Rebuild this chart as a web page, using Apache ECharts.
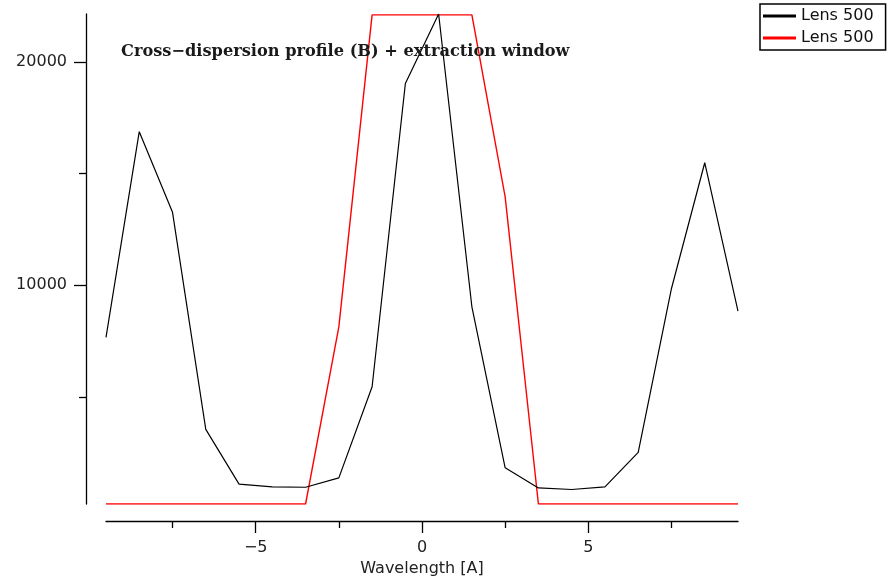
<!DOCTYPE html>
<html>
<head>
<meta charset="utf-8">
<script src="https://cdn.jsdelivr.net/npm/echarts@6/dist/echarts.min.js"></script>
<style>
  html, body { margin: 0; padding: 0; background: #fff; }
  #chart { width: 889px; height: 580px; }
</style>
</head>
<body>
<div id="chart"></div>
<script>
// pixel offsets along the cross-dispersion direction
const wavelength = [-9.5, -8.5, -7.5, -6.5, -5.5, -4.5, -3.5, -2.5, -1.5, -0.5,
                    0.5, 1.5, 2.5, 3.5, 4.5, 5.5, 6.5, 7.5, 8.5, 9.5];
// measured profile (black)
const profile = [7660, 16870, 13260, 3540, 1090, 970, 950, 1370, 5450, 19030,
                 22140, 9030, 1820, 920, 850, 970, 2510, 9850, 15480, 8840];
// extraction window, scaled to the profile (red)
const extraction = [200, 200, 200, 200, 200, 200, 200, 8130, 22100, 22100,
                    22100, 22100, 13950, 200, 200, 200, 200, 200, 200, 200];

const xMajorTicks = [-5, 0, 5];
const xMinorTicks = [-7.5, -2.5, 2.5, 7.5];
const yMajorTicks = [10000, 20000];
const yMinorTicks = [5000, 15000];

const legendLabel = 'Lens 500';

const chart = echarts.init(document.getElementById('chart'));

const sansFont = '"DejaVu Sans", sans-serif';
const xMin = -9.5, xMax = 9.5, yMin = 200, yMax = 22140;

const minus = v => (v < 0 ? '\u2212' + Math.abs(v) : String(v));

const option = {
  backgroundColor: '#fff',
  animation: false,
  title: {
    text: 'Cross\u2212dispersion profile (B) + extraction window',
    left: 121,
    top: 44,
    padding: 0,
    textStyle: {
      fontFamily: '"DejaVu Serif", serif',
      fontWeight: 'bold',
      fontSize: 16.2,
      color: '#1a1a1a'
    }
  },
  legend: {
    orient: 'vertical',
    left: 760,
    top: 4,
    padding: [4, 12, 4, 3],
    itemGap: 6,
    itemWidth: 33,
    itemHeight: 3,
    icon: 'rect',
    borderColor: '#000',
    borderWidth: 1.5,
    borderRadius: 0,
    data: ['profile', 'window'],
    formatter: () => legendLabel,
    textStyle: { fontFamily: sansFont, fontSize: 16, color: '#111' }
  },
  grid: { left: 106, right: 151, top: 14, bottom: 76, containLabel: false, outerBoundsMode: 'none' },
  xAxis: [
    {
      type: 'value',
      min: xMin,
      max: xMax,
      position: 'bottom',
      offset: 17,
      name: 'Wavelength [A]',
      nameLocation: 'middle',
      nameGap: 40,
      nameTextStyle: { fontFamily: sansFont, fontSize: 16, color: '#222' },
      axisLine: { show: true, onZero: false, lineStyle: { color: '#000', width: 1.3 } },
      axisTick: { show: true, customValues: xMajorTicks, length: 12, lineStyle: { color: '#000', width: 1.3 } },
      axisLabel: { customValues: xMajorTicks, margin: 19, fontFamily: sansFont, fontSize: 16, color: '#222', formatter: minus },
      splitLine: { show: false }
    },
    {
      type: 'value',
      min: xMin,
      max: xMax,
      position: 'bottom',
      offset: 17,
      axisLine: { show: false, onZero: false },
      axisTick: { show: true, customValues: xMinorTicks, length: 7, lineStyle: { color: '#000', width: 1.3 } },
      axisLabel: { show: false },
      splitLine: { show: false }
    }
  ],
  yAxis: [
    {
      type: 'value',
      min: yMin,
      max: yMax,
      position: 'left',
      offset: 20,
      axisLine: { show: true, onZero: false, lineStyle: { color: '#000', width: 1.3 } },
      axisTick: { show: true, customValues: yMajorTicks, length: 12, lineStyle: { color: '#000', width: 1.3 } },
      axisLabel: { customValues: yMajorTicks, margin: 19, fontFamily: sansFont, fontSize: 16, color: '#222', formatter: v => String(v) },
      splitLine: { show: false }
    },
    {
      type: 'value',
      min: yMin,
      max: yMax,
      position: 'left',
      offset: 20,
      axisLine: { show: false, onZero: false },
      axisTick: { show: true, customValues: yMinorTicks, length: 7, lineStyle: { color: '#000', width: 1.3 } },
      axisLabel: { show: false },
      splitLine: { show: false }
    }
  ],
  series: [
    {
      name: 'profile',
      type: 'line',
      data: wavelength.map((x, i) => [x, profile[i]]),
      showSymbol: false,
      color: '#000',
      lineStyle: { color: '#000', width: 1.2 },
      z: 3
    },
    {
      name: 'window',
      type: 'line',
      data: wavelength.map((x, i) => [x, extraction[i]]),
      showSymbol: false,
      color: '#ff0000',
      lineStyle: { color: '#ff0000', width: 1.4 },
      z: 2
    }
  ]
};

chart.setOption(option);
</script>
</body>
</html>
